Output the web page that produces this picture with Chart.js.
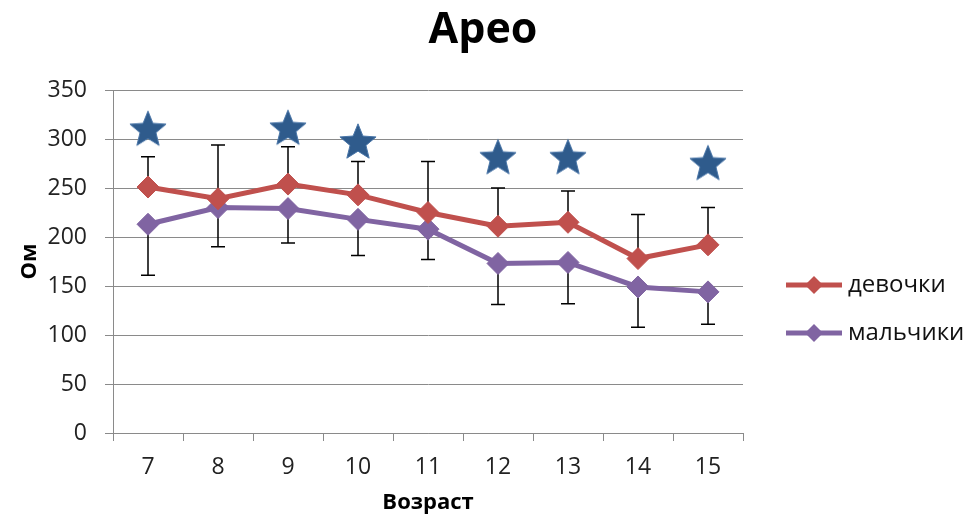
<!DOCTYPE html>
<html><head><meta charset="utf-8">
<script src="https://cdn.jsdelivr.net/npm/chart.js@4"></script>
<style>html,body{margin:0;padding:0;background:#fff}#wrap{width:966px;height:518px;position:relative}</style>
</head><body><div id="wrap"><canvas id="c"></canvas></div>
<script>
const ages = ['7','8','9','10','11','12','13','14','15'];
const girls = [251, 239, 254, 243, 225, 211, 215, 178, 192];
const boys = [213, 230, 229, 218, 208, 173, 174, 149, 144];
const girlsSD = [31, 55, 38, 34, 52, 39, 32, 45, 38];
const boysSD = [52, 40, 35, 37, 31, 42, 42, 41, 33];
const stars = [311, null, 312, 298, null, 282, 282, null, 276];
const yMin = 0, yMax = 350, yStep = 50;

const RED = '#C0504D', PURPLE = '#8064A2', STAR = '#2F5B8C', GRID = '#8a8a8a';

function makeStar(R, color){
  const s = Math.ceil(R*2+4), c = document.createElement('canvas');
  c.width = s; c.height = s;
  const g = c.getContext('2d');
  const cx = s/2, cy = s/2 + 0.095*R, r = R*0.44;
  g.beginPath();
  for(let i=0;i<10;i++){
    const a = -Math.PI/2 + i*Math.PI/5, rr = i%2 ? r : R;
    g.lineTo(cx + rr*Math.cos(a), cy + rr*Math.sin(a));
  }
  g.closePath(); g.fillStyle = color; g.fill();
  g.lineWidth = 1; g.strokeStyle = '#4a76a8'; g.stroke();
  return c;
}

const errorBars = {
  id: 'errorBars',
  beforeDatasetsDraw(chart){
    const ctx = chart.ctx, ys = chart.scales.y;
    chart.data.datasets.forEach((ds, i) => {
      if(!ds.errors) return;
      const meta = chart.getDatasetMeta(i);
      meta.data.forEach((pt, j) => {
        const v = ds.data[j], e = ds.errors[j];
        if(v == null || e == null) return;
        const x = pt.x, y0 = ys.getPixelForValue(v), y1 = ys.getPixelForValue(v + ds.errorDir*e);
        ctx.save();
        ctx.strokeStyle = '#000'; ctx.lineWidth = 1.5;
        ctx.beginPath();
        ctx.moveTo(x, y0); ctx.lineTo(x, y1);
        ctx.moveTo(x-7, y1); ctx.lineTo(x+7, y1);
        ctx.stroke();
        ctx.restore();
      });
    });
  }
};

const sideLegend = {
  id: 'sideLegend',
  afterDraw(chart){
    const ctx = chart.ctx, a = chart.chartArea;
    const items = chart.data.datasets.filter(d => d.inLegend);
    const x0 = a.right + 43, yFirst = 285, gap = 48;
    items.forEach((ds, k) => {
      const y = yFirst + k*gap;
      ctx.save();
      ctx.strokeStyle = ds.borderColor; ctx.lineWidth = 5;
      ctx.beginPath(); ctx.moveTo(x0, y); ctx.lineTo(x0+56, y); ctx.stroke();
      ctx.fillStyle = ds.borderColor;
      const cx = x0+28, r = 9;
      ctx.beginPath(); ctx.moveTo(cx, y-r); ctx.lineTo(cx+r, y); ctx.lineTo(cx, y+r); ctx.lineTo(cx-r, y); ctx.closePath(); ctx.fill();
      ctx.fillStyle = '#111';
      ctx.font = '24px "Open Sans"';
      ctx.textBaseline = 'middle'; ctx.textAlign = 'left';
      ctx.fillText(ds.label, x0+62, y);
      ctx.restore();
    });
  }
};

new Chart(document.getElementById('c'), {
  type: 'line',
  data: {
    labels: ages,
    datasets: [
      { label: 'девочки', data: girls, errors: girlsSD, errorDir: 1, inLegend: true,
        borderColor: RED, backgroundColor: RED, borderWidth: 5, tension: 0,
        pointStyle: 'rectRot', pointRadius: 11, pointBackgroundColor: RED, pointBorderColor: RED, pointBorderWidth: 1 },
      { label: 'мальчики', data: boys, errors: boysSD, errorDir: -1, inLegend: true,
        borderColor: PURPLE, backgroundColor: PURPLE, borderWidth: 5, tension: 0,
        pointStyle: 'rectRot', pointRadius: 11, pointBackgroundColor: PURPLE, pointBorderColor: PURPLE, pointBorderWidth: 1 },
      { label: 'значимость', data: stars, showLine: false, inLegend: false,
        pointStyle: makeStar(19, STAR), pointRadius: 19, borderColor: STAR, backgroundColor: STAR }
    ]
  },
  options: {
    responsive: true, maintainAspectRatio: false, animation: false,
    events: [],
    layout: { padding: 0 },
    plugins: {
      legend: { display: false },
      tooltip: { enabled: false },
      title: { display: true, text: 'Арео', color: '#000',
        font: { family: 'Open Sans', size: 43, weight: 'bold' },
        padding: { top: 5, bottom: 33.4 } }
    },
    scales: {
      x: {
        offset: true,
        grid: { offset: true, drawOnChartArea: false, drawTicks: true, tickLength: 8, color: GRID },
        border: { display: true, color: GRID, width: 1 },
        ticks: { color: '#222', padding: 13, font: { family: 'Open Sans', size: 23 }, maxRotation: 0 },
        title: { display: true, text: 'Возраст', color: '#000',
          font: { family: 'Open Sans', size: 22, weight: 'bold' }, padding: { top: 0, bottom: 2 } },
        afterFit(s){ s.height = 85; }
      },
      y: {
        min: yMin, max: yMax,
        grid: { color: GRID, drawTicks: true, tickLength: 8, lineWidth: 1 },
        border: { display: true, color: GRID, width: 1 },
        ticks: { stepSize: yStep, color: '#222', padding: 18, font: { family: 'Open Sans', size: 23 } },
        title: { display: true, text: 'Ом', color: '#000',
          font: { family: 'Open Sans', size: 22, weight: 'bold' }, padding: { top: 17, bottom: 0 } },
        afterFit(s){ s.width = 113; }
      },
      legendSpace: {
        type: 'linear', position: 'right', display: true,
        grid: { display: false, drawOnChartArea: false },
        border: { display: false },
        ticks: { display: false },
        afterFit(s){ s.width = 223; }
      }
    }
  },
  plugins: [errorBars, sideLegend]
});
</script>
</body></html>
